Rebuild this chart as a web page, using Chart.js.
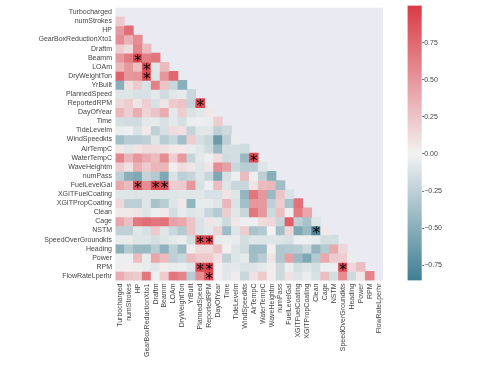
<!DOCTYPE html>
<html>
<head>
<meta charset="utf-8">
<script src="https://cdn.jsdelivr.net/npm/chart.js@4"></script>
<style>
  body { margin: 0; background: #fff; }
  #wrap { position: relative; width: 480px; height: 365px; }
  canvas { position: absolute; top: 0; }
  #heat { left: 0; }
  #bar { left: 390px; }
</style>
</head>
<body>
<div id="wrap">
  <canvas id="heat" width="390" height="365"></canvas>
  <canvas id="bar" width="90" height="365"></canvas>
</div>
<script>
const variables = ["Turbocharged","numStrokes","HP","GearBoxReductionXto1","Draftm","Beamm","LOAm","DryWeightTon","YrBuilt","PlannedSpeed","ReportedRPM","DayOfYear","Time","TideLevelm","WindSpeedkts","AirTempC","WaterTempC","WaveHeightm","numPass","FuelLevelGal","XGITFuelCoating","XGITPropCoating","Clean","Cage","NSTM","SpeedOverGroundkts","Heading","Power","RPM","FlowRateLperhr"];

// lower triangle, one list per row
const rTurbo = [];
const rStrokes = [.22];
const rHP = [.48,.72];
const rGear = [.55,.35,.55];
const rDraft = [.2,.12,.6,.3];
const rBeam = [.48,.65,.92,.62,.68];
const rLOA = [.32,.48,.28,.9,-.08,.3];
const rDryWeight = [.78,.5,.52,.9,-.1,.5,.75];
const rYrBuilt = [-.5,.1,.22,-.12,.62,.25,-.2,-.5];
const rPlanned = [-.1,-.1,-.13,-.13,-.07,-.17,-.08,-.06,-.2];
const rReported = [.15,.2,.08,.2,-.13,.07,.22,.25,-.22,.93];
const rDay = [.32,.2,.38,.17,.25,.38,-.07,.2,-.12,-.08,.06];
const rTime = [-.14,-.16,-.17,-.07,-.06,-.13,-.07,-.14,-.04,-.03,-.04,.2];
const rTide = [-.04,-.03,-.12,.05,-.25,-.13,.12,.1,-.22,-.08,-.08,-.25,-.18];
const rWind = [-.38,-.28,-.28,-.25,-.1,-.28,-.2,-.38,.2,-.14,-.2,-.65,-.25,-.04];
const rAir = [.06,-.08,.08,.13,.13,.1,.05,.05,-.05,-.08,-.17,-.42,-.15,-.15,-.17];
const rWater = [.6,.33,.5,.38,.3,.55,.2,.48,-.22,-.07,-.03,.12,-.17,-.15,-.42,.9];
const rWave = [.2,.1,.35,.22,.33,.33,.03,.12,.07,-.1,.07,.55,.45,-.2,-.27,-.27,-.1];
const rPass = [-.25,-.5,-.55,-.22,-.3,-.55,-.12,-.25,-.22,-.1,-.2,-.55,-.13,-.03,.3,.03,-.25,-.5];
const rFuel = [.4,.3,.88,.55,.92,.9,.2,.22,.5,-.13,-.03,.3,-.1,-.2,-.2,.08,.3,.32,-.38];
const rXFuel = [-.1,-.1,-.11,-.1,-.1,-.1,-.1,-.08,-.08,-.08,-.13,-.13,.08,-.1,-.45,.68,.5,-.42,.25,-.12];
const rXProp = [.15,-.25,-.25,-.1,-.35,-.27,-.1,.06,-.45,-.05,-.05,-.1,.32,-.12,-.38,.5,.48,-.25,.2,-.35,.7];
const rClean = [.05,.05,.07,-.1,-.03,.05,-.15,-.05,-.1,-.07,-.2,-.3,.2,-.08,-.2,.68,.5,-.18,.28,-.03,.65,.42];
const rCage = [.42,.28,.68,.72,.68,.7,.45,.4,.25,-.12,.07,-.06,-.18,.06,-.03,-.03,.13,.15,-.2,.8,-.25,-.35,-.1];
const rNSTM = [-.25,-.25,-.08,-.13,.22,-.08,-.2,-.3,.25,-.12,-.07,.17,-.4,-.1,.2,-.35,-.3,.01,-.38,.15,-.55,-.42,-.82,.06];
const rSpeed = [-.05,-.05,-.1,-.1,-.15,-.1,-.07,-.04,-.15,.93,.93,-.05,-.04,-.05,-.15,-.1,-.1,-.1,-.1,-.13,-.03,-.03,-.05,-.15,-.15];
const rHeading = [-.5,-.3,-.42,-.42,-.28,-.48,-.25,-.42,.03,.13,.13,.25,.02,-.1,-.17,-.4,-.4,.02,-.32,-.3,-.28,-.18,-.45,-.3,.4,.15];
const rPower = [-.03,-.03,.3,-.05,.42,.3,-.25,-.2,.3,.22,.22,.1,-.25,-.1,-.06,-.38,-.28,.08,-.32,.45,-.42,-.55,-.3,.4,.22,.2,-.04];
const rRPM = [-.03,.02,.03,-.05,-.08,.03,-.05,-.04,-.08,.93,.93,.02,-.08,-.07,-.12,-.1,-.06,.03,-.18,-.04,-.15,-.1,-.15,-.03,-.03,.9,.15,.28];
const rFlow = [.38,.25,.22,.68,-.02,.22,.68,.6,-.28,.55,.92,.02,-.08,.04,-.2,.1,.22,.03,-.18,.1,-.1,-.04,-.13,.28,-.15,.55,-.18,.06,.6];
const corrRows = [rTurbo,rStrokes,rHP,rGear,rDraft,rBeam,rLOA,rDryWeight,rYrBuilt,rPlanned,rReported,rDay,rTime,rTide,rWind,rAir,rWater,rWave,rPass,rFuel,rXFuel,rXProp,rClean,rCage,rNSTM,rSpeed,rHeading,rPower,rRPM,rFlow];

// [row, column] of the cells annotated with *
const starCells = [[5,2],[6,3],[7,3],[10,9],[16,15],[19,2],[19,4],[19,5],[24,22],[25,9],[25,10],[28,9],[28,10],[28,25],[29,10]];

const barMin = -0.853, barMax = 1;
const barTicks = [-0.75,-0.5,-0.25,0,0.25,0.5,0.75];

const lowRGB = [63,127,147], midRGB = [242,242,242], highRGB = [218,59,70];
const textColor = "#444";
const labelFont = { family: "'Liberation Sans', Arial, sans-serif", size: 7 };

// same ramp as the colorbar: barMin -> low, 0 -> mid, 1 -> high
function colorFor(v) {
  const end = v < 0 ? lowRGB : highRGB;
  const t = v < 0 ? Math.min(v / barMin, 1) : Math.min(v / barMax, 1);
  const c = midRGB.map((m, i) => Math.round(m + (end[i] - m) * t));
  return `rgb(${c[0]},${c[1]},${c[2]})`;
}

// one floating bar dataset per row, so every cell goes through the scales
const rowDatasets = corrRows.map((row, r) => ({
  label: variables[r],
  data: variables.map((_, c) => (c < row.length ? [r - 0.5, r + 0.5] : null)),
  backgroundColor: variables.map((_, c) => (c < row.length ? colorFor(row[c]) : "transparent")),
  barPercentage: 1,
  categoryPercentage: 1,
  grouped: false
}));

const heatPlugin = {
  id: "heatExtras",
  beforeDatasetsDraw(chart) {
    const a = chart.chartArea, ctx = chart.ctx;
    ctx.save();
    ctx.fillStyle = "#eaeaf2";
    ctx.fillRect(a.left, a.top, a.right - a.left, a.bottom - a.top);
    ctx.restore();
  },
  afterDatasetsDraw(chart) {
    const ctx = chart.ctx;
    ctx.save();
    ctx.fillStyle = "#000";
    ctx.font = "15px 'DejaVu Sans'";
    ctx.textAlign = "center";
    ctx.textBaseline = "alphabetic";
    const m = ctx.measureText("*");
    const shift = (m.actualBoundingBoxAscent - m.actualBoundingBoxDescent) / 2;
    starCells.forEach(([r, c]) => {
      ctx.fillText("*", chart.scales.x.getPixelForValue(c), chart.scales.y.getPixelForValue(r) + shift);
    });
    ctx.restore();
  }
};

new Chart(document.getElementById("heat"), {
  type: "bar",
  data: { labels: variables, datasets: rowDatasets },
  plugins: [heatPlugin],
  options: {
    responsive: false,
    animation: false,
    layout: { padding: { top: 5.5, right: 0, left: 0, bottom: 0 } },
    plugins: { legend: { display: false }, tooltip: { enabled: false } },
    scales: {
      x: {
        offset: true,
        grid: { display: false, drawTicks: false },
        border: { display: false },
        afterFit: s => { s.height = 84.5; },
        ticks: { autoSkip: false, maxRotation: 90, minRotation: 90, color: textColor, font: labelFont, padding: 3 }
      },
      y: {
        type: "linear",
        reverse: true,
        min: -0.5,
        max: 29.5,
        grid: { display: false, drawTicks: false },
        border: { display: false },
        afterFit: s => { s.width = 115.5; },
        afterBuildTicks: s => { s.ticks = variables.map((_, i) => ({ value: i })); },
        ticks: { autoSkip: false, color: textColor, font: labelFont, padding: 3.5, callback: v => variables[v] }
      }
    }
  }
});

new Chart(document.getElementById("bar"), {
  type: "bar",
  data: {
    labels: [""],
    datasets: [{
      data: [[barMin, barMax]],
      barPercentage: 1,
      categoryPercentage: 1,
      backgroundColor(ctx) {
        const chart = ctx.chart;
        if (!chart.chartArea) return "#f2f2f2";
        const y = chart.scales.y;
        const g = chart.ctx.createLinearGradient(0, y.getPixelForValue(barMax), 0, y.getPixelForValue(barMin));
        const zero = (barMax - 0) / (barMax - barMin);
        g.addColorStop(0, colorFor(barMax));
        g.addColorStop(zero, colorFor(0));
        g.addColorStop(1, colorFor(barMin));
        return g;
      }
    }]
  },
  options: {
    responsive: false,
    animation: false,
    layout: { padding: { top: 5.5, bottom: 84.5, left: 17.5, right: 0 } },
    plugins: { legend: { display: false }, tooltip: { enabled: false } },
    scales: {
      x: { display: false },
      y: {
        position: "right",
        min: barMin,
        max: barMax,
        border: { display: false },
        grid: { drawOnChartArea: false, tickLength: 2.5, tickColor: textColor, tickWidth: 0.7 },
        afterFit: s => { s.width = 58.3; },
        afterBuildTicks: s => { s.ticks = barTicks.map(v => ({ value: v })); },
        ticks: {
          color: textColor,
          font: labelFont,
          padding: 0,
          callback: v => (v < 0 ? "\u2212" : "") + Math.abs(v).toFixed(2)
        }
      }
    }
  }
});
</script>
</body>
</html>
